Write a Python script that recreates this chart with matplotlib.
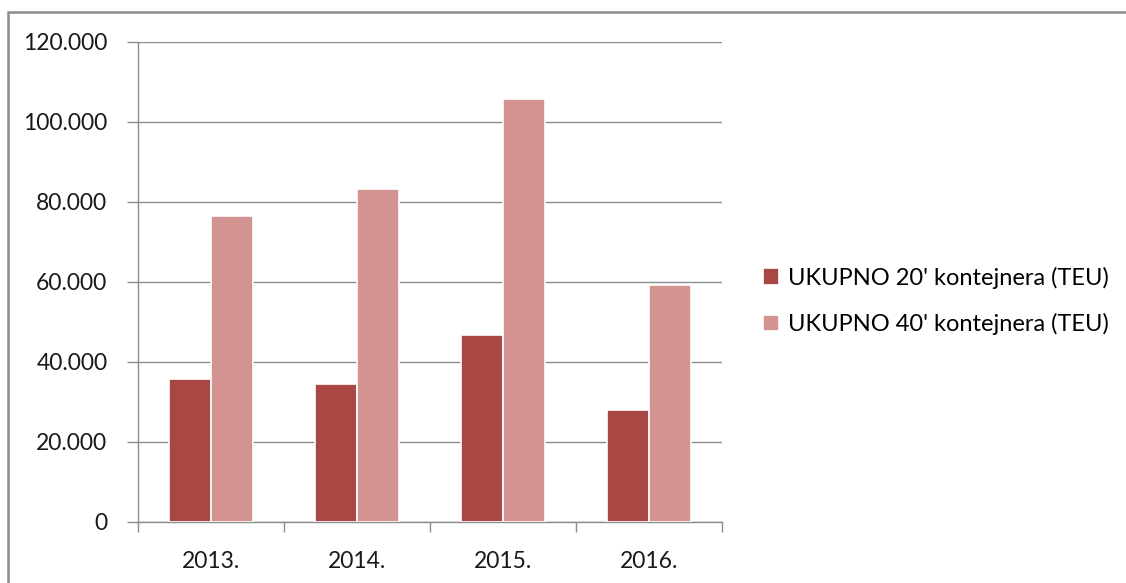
import numpy as np
import matplotlib
matplotlib.use("Agg")
import matplotlib.pyplot as plt
from matplotlib.patches import Rectangle
from matplotlib.ticker import FuncFormatter

# Data
years = ["2013.", "2014.", "2015.", "2016."]
teu_20 = [35700, 34500, 46700, 28000]
teu_40 = [76500, 83250, 105700, 59200]
series_names = ["UKUPNO 20' kontejnera (TEU)", "UKUPNO 40' kontejnera (TEU)"]

DARK = "#A94745"
LIGHT = "#D39391"
GRID = "#8C8C8C"

plt.rcParams["font.family"] = ["Lato", "DejaVu Sans"]


def thousands(v, pos):
    return f"{int(v):,}".replace(",", ".")


def main():
    W, H = 1126, 583
    fig = plt.figure(figsize=(W / 100, H / 100), dpi=100)

    # outer frame of the chart object (runs off the right and bottom edge)
    fig.patches.append(Rectangle((8 / W, -0.1), 1.2, (H - 12) / H + 0.1,
                                 transform=fig.transFigure, fill=False,
                                 edgecolor="#8C8C8C", linewidth=1.8))

    ax = fig.add_axes([138 / W, (H - 522) / H, (722 - 138) / W, 480 / H])

    x = np.arange(len(years))
    bw = 0.286
    b1 = ax.bar(x - bw / 2, teu_20, bw, color=DARK, edgecolor="white",
                linewidth=1.2, label=series_names[0], zorder=3)
    b2 = ax.bar(x + bw / 2, teu_40, bw, color=LIGHT, edgecolor="white",
                linewidth=1.2, label=series_names[1], zorder=3)

    ax.set_xlim(-0.5, len(years) - 0.5)
    ax.set_ylim(0, 120000)
    ax.set_yticks(np.arange(0, 120001, 20000))
    ax.yaxis.set_major_formatter(FuncFormatter(thousands))
    ax.yaxis.grid(True, color=GRID, linewidth=1.0, zorder=0)
    ax.set_axisbelow(True)

    ax.set_xticks(x)
    ax.set_xticklabels(years)
    ax.set_xticks(np.arange(-0.5, len(years), 1.0), minor=True)
    ax.tick_params(axis="x", which="major", length=0, pad=21, labelsize=16.5,
                   labelcolor="#1a1a1a")
    ax.tick_params(axis="x", which="minor", length=7, color=GRID, width=1)
    ax.tick_params(axis="y", length=8, color=GRID, width=1, pad=14,
                   labelsize=16.5, labelcolor="#1a1a1a")

    for side in ["top", "right"]:
        ax.spines[side].set_visible(False)
    for side in ["left", "bottom"]:
        ax.spines[side].set_color(GRID)
        ax.spines[side].set_linewidth(1.0)

    fig.legend(handles=[b1, b2], labels=series_names, loc="center left",
               bbox_to_anchor=(751 / W, 1 - 301 / H), frameon=False,
               fontsize=17, handlelength=0.7, handleheight=0.7,
               handletextpad=0.35, labelspacing=1.05, borderpad=0)

    fig.savefig("out.png", dpi=100, facecolor="white")


if __name__ == "__main__":
    main()
